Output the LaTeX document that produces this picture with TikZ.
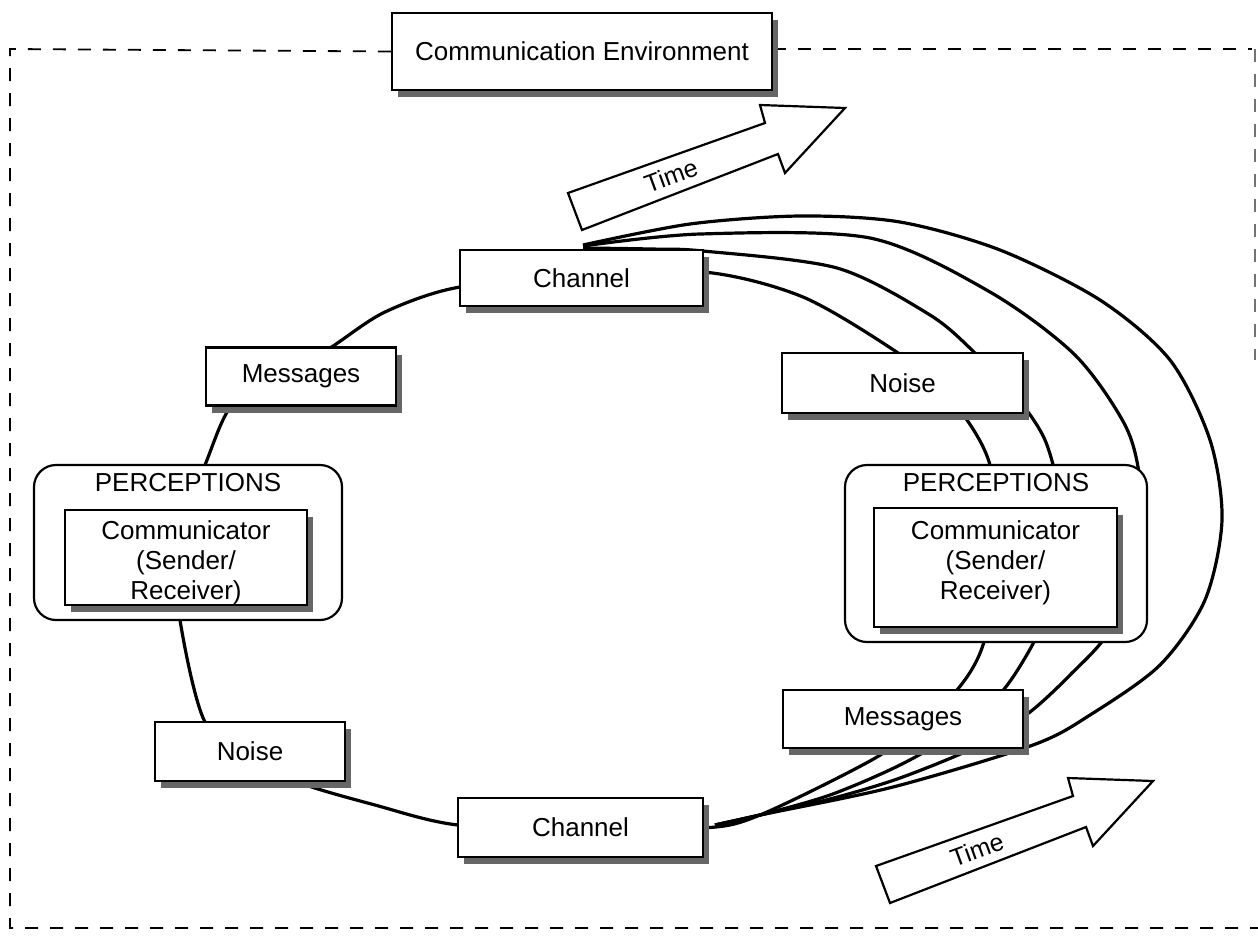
\documentclass[tikz,border=0pt]{standalone}
\usepackage{fontspec}
\setmainfont{Liberation Sans}
\usetikzlibrary{shadows}
\pgfdeclarelayer{background}
\pgfsetlayers{background,main}
\begin{document}
\begin{tikzpicture}[x=1pt,y=-1pt,
  font=\fontsize{26pt}{30pt}\selectfont,
  lbl/.style={draw=black, line width=2.2pt, fill=white, inner sep=0pt, align=center,
     drop shadow={shadow xshift=6pt, shadow yshift=-7pt, fill=black!60, opacity=1}},
  perc/.style={draw=black, line width=2.2pt, fill=white, rounded corners=22pt, inner sep=0pt},
  txt/.style={inner sep=0pt, align=center},
  loopline/.style={line width=3.2pt, black, line join=round},
  frameline/.style={line width=1.8pt, dash pattern=on 13pt off 12pt},
  timearrow/.style={draw=black, line width=2.2pt, fill=white, line join=miter},
]
\useasboundingbox (0,0) rectangle (1258,935);

% label boxes
\node[lbl, minimum width=380pt, minimum height=77pt] (env) at (582,51.5) {Communication Environment};
\node[lbl, minimum width=243pt, minimum height=56pt] (chT) at (581.5,278) {Channel};
\node[lbl, minimum width=245pt, minimum height=59pt] (chB) at (580.5,827.5) {Channel};
\node[lbl, minimum width=190pt, minimum height=58pt] (msgL) at (301,376.5) {Messages};
\node[lbl, minimum width=190pt, minimum height=59pt] (noiseL) at (250,751.5) {Noise};
\node[lbl, minimum width=241pt, minimum height=60pt] (noiseR) at (902.5,383) {Noise};
\node[lbl, minimum width=240pt, minimum height=58pt] (msgR) at (903,719) {Messages};

% perceptions
\node[perc, minimum width=308pt, minimum height=155pt] (percL) at (188,542.5) {};
\node[txt] (percLt) at (188,483) {PERCEPTIONS};
\node[lbl, minimum width=242pt, minimum height=95pt] (commL) at (186,557.5) {};
\node[txt] (commLt) at (186,563) {Communicator\\(Sender/\\Receiver)};
\node[perc, minimum width=302pt, minimum height=177pt] (percR) at (996,553.5) {};
\node[txt] (percRt) at (996,483) {PERCEPTIONS};
\node[lbl, minimum width=243pt, minimum height=119pt] (commR) at (995.5,567.5) {};
\node[txt] (commRt) at (995.5,563) {Communicator\\(Sender/\\Receiver)};

% time arrows
\draw[timearrow, shift={(568,193)}] (0,0) -- (197,-70) -- (192,-88) -- (277,-85) -- (217,-20) -- (210,-39) -- (14,37) -- cycle;
\node[txt, rotate=20, font=\fontsize{25pt}{30pt}\selectfont] (time1) at (671,176) {Time};
\draw[timearrow, shift={(876,866)}] (0,0) -- (197,-70) -- (192,-88) -- (277,-85) -- (217,-20) -- (210,-39) -- (14,37) -- cycle;
\node[txt, rotate=20, font=\fontsize{25pt}{30pt}\selectfont] (time2) at (977,850) {Time};

\begin{pgfonlayer}{background}
% frame
\draw[frameline] (env.west) -- (10,49) -- (10,928) -- (1258,928);
\draw[frameline] (env.east |- 10,49) -- (1252,49);
\draw[frameline, black!55, line width=1.2pt] (1255,49) -- (1255,360);
% main loop
\draw[loopline] plot[smooth cycle, tension=0.5] coordinates {
 (581,279) (703,272) (803,297) (898,353) (930,383) (962,413) (990,465) (1000,555)
 (983,645) (957,690) (918,722) (877,757) (760,815) (703,828) (580,827) (458,825)
 (375,805) (295,781) (250,752) (205,722) (180,620) (176,540) (205,465) (232,405)
 (281,376) (330,348) (385,312) (460,287)};
% extra right loops
\draw[loopline] plot[smooth, tension=0.5] coordinates {
 (583,248) (650,249) (703,251) (837,268) (930,315) (975,353) (1015,395) (1045,440)
 (1060,500) (1060,570) (1040,630) (1005,688) (960,730) (900,765) (830,795) (760,815) (715,825)};
\draw[loopline] plot[smooth, tension=0.5] coordinates {
 (583,246) (700,234) (870,238) (990,292) (1075,355) (1125,425) (1140,480) (1142,550)
 (1110,630) (1070,675) (1030,712) (980,745) (900,778) (830,799) (760,815) (715,825)};
\draw[loopline] plot[smooth, tension=0.5] coordinates {
 (583,245) (690,224) (800,216) (900,222) (1000,250) (1100,300) (1170,360) (1210,440)
 (1222,520) (1205,600) (1160,665) (1090,715) (1033,745) (893,787) (760,815) (715,825)};
\end{pgfonlayer}
\end{tikzpicture}
\end{document}
